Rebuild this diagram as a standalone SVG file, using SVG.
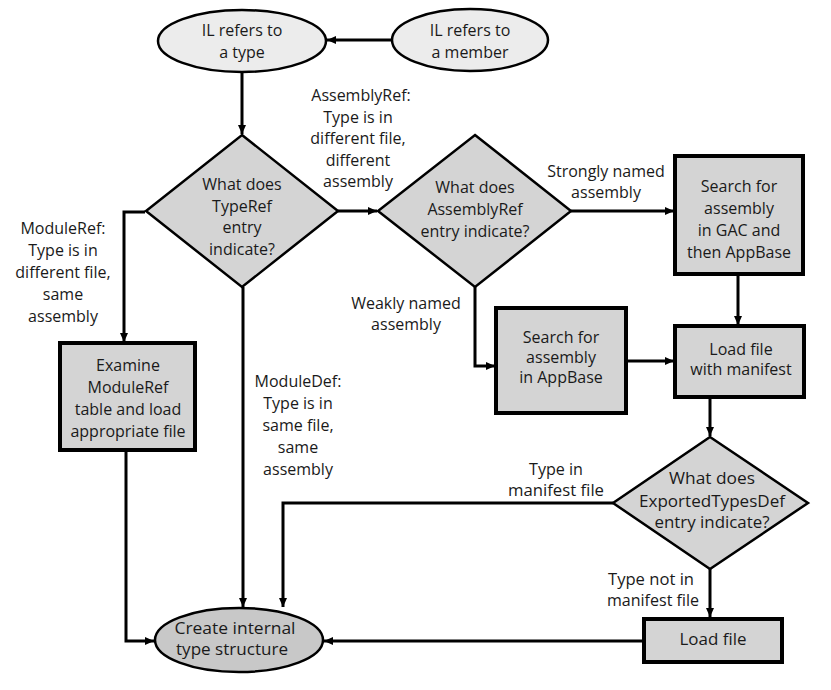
<svg xmlns="http://www.w3.org/2000/svg" width="831" height="690" viewBox="0 0 831 690">
<defs>
<marker id="ah" markerUnits="userSpaceOnUse" markerWidth="10" markerHeight="10" refX="9" refY="5" orient="auto">
<path d="M0,1 L9,5 L0,9 z" fill="#000"/>
</marker>
<style>
text{font-family:"Open Sans","Noto Sans","Liberation Sans",sans-serif;font-size:16px;fill:#1a1a1a;text-anchor:middle}
.c{font-size:16px}
.box{fill:#d4d4d4;stroke:#000;stroke-width:4}
.dia{fill:#d4d4d4;stroke:#000;stroke-width:2.5}
.ell{fill:#ececec;stroke:#000;stroke-width:2.5}
.ell2{fill:#c8c8c8;stroke:#000;stroke-width:2.5}
.conn path{fill:none;stroke:#000;stroke-width:3;marker-end:url(#ah)}
</style>
</defs>
<rect width="831" height="690" fill="#fff"/>
<g id="connectors" class="conn">
<path d="M391,40 L327,40"/>
<path d="M242,72 L242,134"/>
<path d="M338,211 L377,211"/>
<path d="M571,211 L674,211"/>
<path d="M145,212 L124,212 L124,342"/>
<path d="M475,287 L475,366 L495,366"/>
<path d="M626,361 L674,361"/>
<path d="M738,274 L738,325"/>
<path d="M710,397 L710,436"/>
<path d="M613,503 L283,503 L283,607"/>
<path d="M710,569 L710,617"/>
<path d="M643,641 L324,641"/>
<path d="M126,451 L126,641 L154,641"/>
<path d="M243,287 L243,607"/>
</g>
<g id="labels">
<text x="361" y="101">AssemblyRef:</text>
<text x="358" y="123">Type is in</text>
<text x="358" y="144">different file,</text>
<text x="358" y="166">different</text>
<text x="358" y="187">assembly</text>
<text x="63" y="234">ModuleRef:</text>
<text x="63" y="256">Type is in</text>
<text x="63" y="278">different file,</text>
<text x="63" y="300">same</text>
<text x="63" y="322">assembly</text>
<text x="298" y="387">ModuleDef:</text>
<text x="298" y="409">Type is in</text>
<text x="298" y="431">same file,</text>
<text x="298" y="453">same</text>
<text x="298" y="475">assembly</text>
<text x="406" y="309">Weakly named</text>
<text x="406" y="330">assembly</text>
<text x="606" y="177">Strongly named</text>
<text x="606" y="198">assembly</text>
<text x="556" y="475" class="c" textLength="54" lengthAdjust="spacingAndGlyphs">Type in</text>
<text x="556" y="496" class="c" textLength="96" lengthAdjust="spacingAndGlyphs">manifest file</text>
<text x="651" y="585" class="c" textLength="86" lengthAdjust="spacingAndGlyphs">Type not in</text>
<text x="653" y="606" class="c" textLength="92" lengthAdjust="spacingAndGlyphs">manifest file</text>
</g>
<g id="il-type">
<ellipse class="ell" cx="242" cy="41" rx="84" ry="31"/>
<text x="242" y="36">IL refers to</text>
<text x="242" y="58">a type</text>
</g>
<g id="il-member">
<ellipse class="ell" cx="470" cy="40" rx="78" ry="31"/>
<text x="470" y="36">IL refers to</text>
<text x="470" y="58">a member</text>
</g>
<g id="typeref">
<polygon class="dia" points="242,135 338,211 242,287 146,211"/>
<text x="242" y="190">What does</text>
<text x="242" y="212">TypeRef</text>
<text x="242" y="233">entry</text>
<text x="242" y="255">indicate?</text>
</g>
<g id="assemblyref">
<polygon class="dia" points="475,135 571,211 475,287 378,211"/>
<text x="475" y="193">What does</text>
<text x="475" y="215">AssemblyRef</text>
<text x="475" y="237">entry indicate?</text>
</g>
<g id="gac">
<rect class="box" x="675" y="156" width="128" height="118"/>
<text x="739" y="192">Search for</text>
<text x="739" y="214">assembly</text>
<text x="739" y="236">in GAC and</text>
<text x="739" y="258">then AppBase</text>
</g>
<g id="examine">
<rect class="box" x="60" y="343" width="135" height="107"/>
<text x="128" y="371">Examine</text>
<text x="128" y="393">ModuleRef</text>
<text x="128" y="415">table and load</text>
<text x="128" y="437">appropriate file</text>
</g>
<g id="appbase">
<rect class="box" x="496" y="308" width="130" height="105"/>
<text x="561" y="343">Search for</text>
<text x="561" y="363">assembly</text>
<text x="561" y="383">in AppBase</text>
</g>
<g id="manifest">
<rect class="box" x="675" y="326" width="129" height="71"/>
<text x="741" y="355">Load file</text>
<text x="741" y="375">with manifest</text>
</g>
<g id="exported">
<polygon class="dia" points="710,437 808,503 710,569 613,503"/>
<text x="712" y="484" class="c" textLength="86" lengthAdjust="spacingAndGlyphs">What does</text>
<text x="712" y="507" class="c" textLength="146" lengthAdjust="spacingAndGlyphs">ExportedTypesDef</text>
<text x="712" y="528" class="c" textLength="115" lengthAdjust="spacingAndGlyphs">entry indicate?</text>
</g>
<g id="loadfile">
<rect class="box" x="644" y="619" width="138" height="43"/>
<text x="713" y="645" class="c" textLength="67" lengthAdjust="spacingAndGlyphs">Load file</text>
</g>
<g id="create">
<ellipse class="ell2" cx="239" cy="640" rx="84" ry="32"/>
<text x="235" y="634" class="c" textLength="121" lengthAdjust="spacingAndGlyphs">Create internal</text>
<text x="232" y="655" class="c" textLength="112" lengthAdjust="spacingAndGlyphs">type structure</text>
</g>
</svg>
